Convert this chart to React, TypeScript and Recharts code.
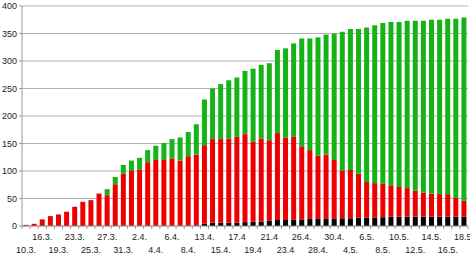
import React from 'react';
import { BarChart, Bar, XAxis, YAxis, CartesianGrid } from 'recharts';

// categories (dates on the x axis)
const dates = [
  '10.3.', '13.3.', '16.3.', '18.3.', '19.3.', '21.3.', '23.3.', '24.3.', '25.3.', '26.3.',
  '27.3.', '30.3.', '31.3.', '1.4.', '2.4.', '3.4.', '4.4.', '5.4.', '6.4.', '7.4.',
  '8.4.', '10.4.', '13.4.', '14.4.', '15.4.', '16.4.', '17.4', '18.4', '19.4', '20.4',
  '21.4', '22.4', '23.4', '24.4', '26.4.', '27.4.', '28.4.', '29.4.', '30.4.', '2.5.',
  '4.5.', '5.5.', '6.5.', '7.5.', '8.5.', '9.5.', '10.5.', '11.5.', '12.5.', '13.5.',
  '14.5.', '15.5.', '16.5.', '17.5.', '18.5.',
];

// black segment
const deaths = [
  0, 0, 0, 0, 0, 0, 0, 0, 0, 0,
  0, 1, 1, 1, 1, 1, 1, 1, 1, 1,
  1, 1, 4, 6, 6, 6, 6, 7, 8, 8,
  10, 11, 11, 12, 12, 13, 13, 13, 13, 14,
  14, 15, 15, 15, 16, 17, 17, 17, 17, 17,
  17, 17, 17, 17, 17,
];

// red segment
const active = [
  2, 4, 12, 18, 21, 26, 35, 44, 47, 59,
  56, 75, 94, 99, 102, 115, 119, 119, 122, 118,
  126, 129, 143, 152, 152, 153, 156, 160, 145, 151,
  146, 158, 150, 150, 133, 125, 115, 117, 107, 87,
  88, 80, 65, 63, 61, 57, 54, 52, 47, 44,
  42, 41, 41, 34, 29,
];

// green segment
const recovered = [
  0, 0, 0, 0, 0, 0, 0, 0, 0, 0,
  11, 13, 16, 19, 21, 22, 26, 31, 35, 42,
  44, 55, 83, 92, 100, 106, 108, 115, 133, 134,
  140, 151, 162, 170, 196, 203, 215, 218, 230, 252,
  256, 263, 281, 287, 292, 297, 300, 304, 309, 312,
  316, 317, 319, 326, 333,
];

const yTicks = [0, 50, 100, 150, 200, 250, 300, 350, 400];

const data = dates.map((d, i) => ({
  date: d,
  deaths: deaths[i],
  active: active[i],
  recovered: recovered[i],
}));

const W = 470;
const H = 254;
const M = { top: 6, right: 2, bottom: 0, left: 0 };
const Y_W = 22;
const PLOT_W = W - M.left - M.right - Y_W;
const FONT = 'Liberation Sans, Arial, sans-serif';

const DateTick = (props: any) => {
  const { x, y, payload, index } = props;
  const band = PLOT_W / dates.length;
  const last = index === dates.length - 1;
  return (
    <g>
      <line x1={x - band / 2} x2={x - band / 2} y1={y} y2={y + 3} stroke="#999" />
      {last && <line x1={x + band / 2} x2={x + band / 2} y1={y} y2={y + 3} stroke="#999" />}
      {index % 2 === 0 && (
        <text
          x={x}
          y={y + (index % 4 === 0 ? 27 : 14)}
          textAnchor="middle"
          fontSize={9}
          fontFamily={FONT}
          fill="#222"
        >
          {payload.value}
        </text>
      )}
    </g>
  );
};

export default function App() {
  return (
    <div style={{ position: 'absolute', left: 0, top: 0, width: W, height: H, background: '#fff' }}>
      <BarChart width={W} height={H} data={data} margin={M} barCategoryGap="19%">
        <CartesianGrid vertical={false} stroke="#b3b3b3" yAxisId="left" />
        <XAxis
          dataKey="date"
          interval={0}
          tick={<DateTick />}
          tickLine={false}
          tickSize={0}
          tickMargin={0}
          height={28}
          axisLine={{ stroke: '#999' }}
        />
        <YAxis
          yAxisId="left"
          width={Y_W}
          domain={[0, 400]}
          ticks={yTicks}
          interval={0}
          tickSize={3}
          tickMargin={2}
          tick={{ fontSize: 9, fontFamily: FONT, fill: '#222' }}
          axisLine={{ stroke: '#999' }}
          tickLine={{ stroke: '#999' }}
        />
        <YAxis
          yAxisId="right"
          orientation="right"
          width={0}
          domain={[0, 400]}
          tick={false}
          tickLine={false}
          axisLine={{ stroke: '#999' }}
        />
        <Bar yAxisId="left" dataKey="deaths" stackId="a" fill="#000000" isAnimationActive={false} />
        <Bar yAxisId="left" dataKey="active" stackId="a" fill="#ee0000" isAnimationActive={false} />
        <Bar yAxisId="left" dataKey="recovered" stackId="a" fill="#16b316" isAnimationActive={false} />
      </BarChart>
    </div>
  );
}
